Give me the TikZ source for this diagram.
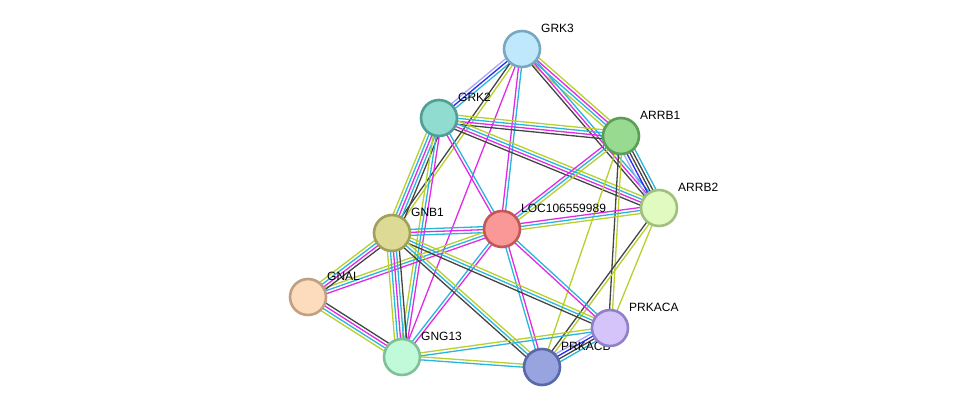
\documentclass[tikz,border=0pt]{standalone}
\usepackage{fontspec}
\setmainfont{Liberation Sans}
\usepackage{tikz}
\usetikzlibrary{calc}
\usetikzlibrary{shapes}
\usetikzlibrary{backgrounds}
\definecolor{evcyan}{HTML}{28B6DC}
\definecolor{evmag}{HTML}{E02AE6}
\definecolor{evylw}{HTML}{B8D02C}
\definecolor{evblk}{HTML}{444444}
\definecolor{evblue}{HTML}{2A2AF0}
\definecolor{evlav}{HTML}{A8A8F6}
\tikzstyle{protein}=[circle, minimum size=36pt, inner sep=0pt, line width=2.6pt]
\tikzstyle{genelabel}=[anchor=west, inner sep=0pt, font=\fontsize{12}{12}\selectfont]
\tikzstyle{link}=[line width=1.3pt]
\pgfdeclarelayer{edges}
\pgfdeclarelayer{labels}
\pgfsetlayers{edges,labels,main}
\newcommand{\edgebundle}[3]{%
  \foreach \col [count=\k] in {#3} {\xdef\nlines{\k}}%
  \foreach \col [count=\k] in {#3} {%
    \pgfmathsetmacro{\off}{(\k-(\nlines+1)/2)*3}%
    \draw[link, draw=\col] ($(#1)!\off pt!90:(#2)$) -- ($(#2)!\off pt!-90:(#1)$);
  }%
}

\begin{document}
\begin{tikzpicture}[x=1pt, y=-1pt]
      \useasboundingbox (0,0) rectangle (975,413);
      \node[protein, fill={rgb,255:red,192;green,232;blue,252}, draw={rgb,255:red,120;green,168;blue,192}] at (522,49) (grk3) {};
      \node[protein, fill={rgb,255:red,144;green,220;blue,208}, draw={rgb,255:red,80;green,158;blue,150}] at (439,118) (grk2) {};
      \node[protein, fill={rgb,255:red,152;green,218;blue,144}, draw={rgb,255:red,90;green,158;blue,88}] at (621,136) (arrb1) {};
      \node[protein, fill={rgb,255:red,224;green,250;blue,192}, draw={rgb,255:red,160;green,192;blue,128}] at (659,208) (arrb2) {};
      \node[protein, fill={rgb,255:red,250;green,152;blue,152}, draw={rgb,255:red,192;green,88;blue,88}] at (502,229) (loc) {};
      \node[protein, fill={rgb,255:red,220;green,218;blue,148}, draw={rgb,255:red,160;green,160;blue,88}] at (392,233) (gnb1) {};
      \node[protein, fill={rgb,255:red,252;green,220;blue,188}, draw={rgb,255:red,192;green,160;blue,128}] at (308,297) (gnal) {};
      \node[protein, fill={rgb,255:red,212;green,196;blue,250}, draw={rgb,255:red,144;green,128;blue,200}] at (610,328) (prkaca) {};
      \node[protein, fill={rgb,255:red,192;green,250;blue,216}, draw={rgb,255:red,128;green,192;blue,152}] at (402,357) (gng13) {};
      \node[protein, fill={rgb,255:red,152;green,164;blue,224}, draw={rgb,255:red,88;green,104;blue,168}] at (542,367) (prkacb) {};
      \begin{pgfonlayer}{labels}
      \node[genelabel] at ([shift={(19,-21)}]grk3.center) (grk3-l) {GRK3};
      \node[genelabel] at ([shift={(19,-21)}]grk2.center) (grk2-l) {GRK2};
      \node[genelabel] at ([shift={(19,-21)}]arrb1.center) (arrb1-l) {ARRB1};
      \node[genelabel] at ([shift={(19,-21)}]arrb2.center) (arrb2-l) {ARRB2};
      \node[genelabel] at ([shift={(19,-21)}]loc.center) (loc-l) {LOC106559989};
      \node[genelabel] at ([shift={(19,-21)}]gnb1.center) (gnb1-l) {GNB1};
      \node[genelabel] at ([shift={(19,-21)}]gnal.center) (gnal-l) {GNAL};
      \node[genelabel] at ([shift={(19,-21)}]prkaca.center) (prkaca-l) {PRKACA};
      \node[genelabel] at ([shift={(19,-21)}]gng13.center) (gng13-l) {GNG13};
      \node[genelabel] at ([shift={(19,-21)}]prkacb.center) (prkacb-l) {PRKACB};
      \end{pgfonlayer}
      \begin{pgfonlayer}{edges}
      \edgebundle{grk3}{grk2}{evlav,evblue,evcyan}
      \edgebundle{grk3}{gnb1}{evblk,evylw}
      \edgebundle{grk3}{gng13}{evmag}
      \edgebundle{grk3}{loc}{evmag,evcyan}
      \edgebundle{grk3}{arrb1}{evylw,evcyan,evmag,evylw}
      \edgebundle{grk3}{arrb2}{evblk,evmag,evcyan}
      \edgebundle{grk2}{arrb1}{evblk,evmag,evcyan,evylw}
      \edgebundle{grk2}{arrb2}{evblk,evmag,evcyan,evylw}
      \edgebundle{grk2}{loc}{evmag,evcyan}
      \edgebundle{grk2}{gnb1}{evylw,evcyan,evmag,evcyan,evblk}
      \edgebundle{grk2}{gng13}{evylw,evcyan,evmag}
      \edgebundle{arrb1}{arrb2}{evlav,evblue,evblk,evblk,evcyan}
      \edgebundle{arrb1}{loc}{evmag,evcyan,evylw}
      \edgebundle{arrb1}{prkaca}{evblk,evylw}
      \edgebundle{arrb1}{prkacb}{evylw}
      \edgebundle{arrb2}{loc}{evmag,evcyan,evylw}
      \edgebundle{arrb2}{prkacb}{evblk,evylw}
      \edgebundle{arrb2}{prkaca}{evylw}
      \edgebundle{loc}{gnb1}{evcyan,evmag,evcyan}
      \edgebundle{loc}{gnal}{evylw,evcyan,evmag}
      \edgebundle{loc}{gng13}{evcyan,evmag}
      \edgebundle{loc}{prkacb}{evcyan,evmag}
      \edgebundle{loc}{prkaca}{evmag,evcyan}
      \edgebundle{gnb1}{gnal}{evylw,evcyan,evmag,evblk}
      \edgebundle{gnb1}{gng13}{evylw,evcyan,evmag,evcyan,evblk}
      \edgebundle{gnb1}{prkaca}{evblk,evcyan,evylw}
      \edgebundle{gnb1}{prkacb}{evblk,evcyan,evylw}
      \edgebundle{gnal}{gng13}{evylw,evcyan,evmag,evblk}
      \edgebundle{gng13}{prkaca}{evcyan,evylw}
      \edgebundle{gng13}{prkacb}{evcyan,evylw}
      \edgebundle{prkaca}{prkacb}{evlav,evblue,evblk,evcyan}
      \end{pgfonlayer}
    \end{tikzpicture}
\end{document}
